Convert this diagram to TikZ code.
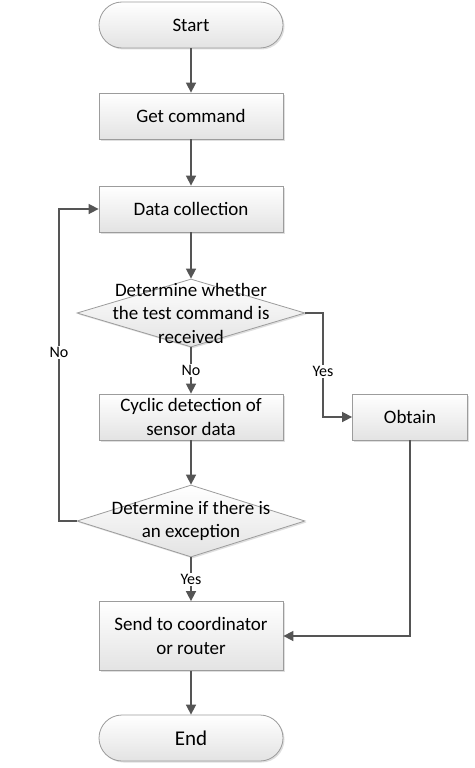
\documentclass[tikz,border=0pt]{standalone}
\usepackage{fontspec}
\setmainfont{Carlito}
\usetikzlibrary{shapes.geometric,arrows.meta,shadows}

\definecolor{linegray}{HTML}{555555}
\definecolor{boxgray}{HTML}{9C9C9C}

\tikzset{
    shade box/.style={draw=boxgray, line width=0.8pt, top color=white, bottom color=black!11,
        drop shadow={opacity=0.25, shadow xshift=1.5pt, shadow yshift=-1.5pt}},
    flowline/.style={draw=linegray, line width=1.6pt, -{Triangle[length=10pt,width=10pt]}},
    branch/.style={fill=white, inner sep=1.5pt, font=\fontsize{16}{18}\selectfont}
}

\begin{document}
\begin{tikzpicture}[x=1pt, y=-1pt]
            \useasboundingbox[fill=white] (0,0) rectangle (474,768);

            \begin{scope}[
                    every node/.style={shade box, rectangle, minimum width=184pt, minimum height=46pt,
                        inner sep=0pt, align=center, font=\fontsize{19}{23.5}\selectfont}
                ]
                \node (get) at (191,116) {Get command};
                \node (data) at (191,209) {Data collection};
                \node (cyclic) at (191,417) {Cyclic detection of\\sensor data};
                \node (obtain) at (410,417) [minimum width=115pt] {Obtain};
                \node (send) at (191,636) [minimum height=69pt] {Send to coordinator\\or router};
            \end{scope}
            \begin{scope}[
                    every node/.style={shade box, rectangle, rounded corners=23pt, minimum width=184pt,
                        minimum height=46pt, inner sep=0pt}
                ]
                \node (start) at (191,25) {\fontsize{19}{23}\selectfont Start};
                \node (end) at (191,738) {\fontsize{21}{25}\selectfont End};
            \end{scope}
            \begin{scope}[
                    every node/.style={shade box, diamond, minimum width=228pt, inner sep=0pt}
                ]
                \node (test) at (191,313) [minimum height=68pt] {};
                \node (except) at (191,521) [minimum height=72pt] {};
            \end{scope}

            \node[align=center, font=\fontsize{19}{23.5}\selectfont] (testtext) at (test) {Determine whether\\the test command is\\received};
            \node[align=center, font=\fontsize{19}{23.5}\selectfont] (excepttext) at (except) {Determine if there is\\an exception};

            \coordinate (yesbend) at (323,417);
            \coordinate (nobend) at (59,209);

            \begin{scope}[
                    every edge/.style={flowline}
                ]
                \draw (start) edge (get);
                \draw (get) edge (data);
                \draw (test) edge node[branch, pos=0.5] {No} (cyclic);
                \draw (cyclic) edge (except);
                \draw (except) edge node[branch, pos=0.5] {Yes} (send);
                \draw (send) edge (end);
            \end{scope}
            \draw (data) edge[flowline] (test.north);

            \draw[flowline] (test.east) -| node[branch, pos=0.78] {Yes} (yesbend) -- (obtain.west);
            \draw[flowline] (except.west) -| node[branch, pos=0.77] {No} (nobend) -- (data.west);
            \draw[flowline] (obtain.south) |- (send.east);

        \end{tikzpicture}
\end{document}
